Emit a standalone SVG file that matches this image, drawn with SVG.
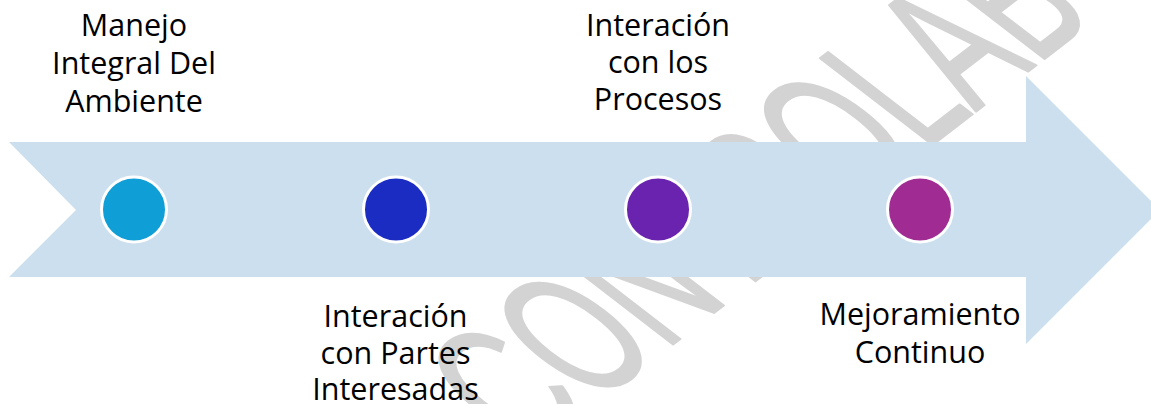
<svg xmlns="http://www.w3.org/2000/svg" width="1151" height="404" viewBox="0 0 1151 404">
  <style>
    .wm { font-family: "Liberation Sans", Arial, sans-serif; font-size: 120px; fill: #D3D3D3; stroke: #D3D3D3; stroke-width: 1.5; stroke-linejoin: round; }
    .arrow { fill: #CCDFEE; }
    .dot { stroke: #FFFFFF; stroke-width: 3; }
    .lbl { font-family: "Open Sans", "Noto Sans", sans-serif; font-size: 30.5px; fill: #000000; text-anchor: middle; }
  </style>
  <rect width="1151" height="404" fill="#FFFFFF"/>
  <g id="watermark">
    <text class="wm" transform="translate(528,456) scale(1.3,1) rotate(-45) scale(0.83,1.48)">CONTROLAB</text>
  </g>
  <g id="connectors">
    <polygon class="arrow" points="9,142 1026,142 1026,76 1160,210 1026,344 1026,277 9,277 76,210"/>
  </g>
  <g id="node-1">
    <circle class="dot" cx="134" cy="209.5" r="32.5" fill="#0F9ED5"/>
    <text class="lbl" x="134" y="36">Manejo</text>
    <text class="lbl" x="134" y="74">Integral Del</text>
    <text class="lbl" x="134" y="112">Ambiente</text>
  </g>
  <g id="node-2">
    <circle class="dot" cx="396" cy="209.5" r="32.5" fill="#1A2CC2"/>
    <text class="lbl" x="395.5" y="327">Interación</text>
    <text class="lbl" x="395.5" y="364">con Partes</text>
    <text class="lbl" x="395.5" y="400">Interesadas</text>
  </g>
  <g id="node-3">
    <circle class="dot" cx="658" cy="209.5" r="32.5" fill="#6A23AE"/>
    <text class="lbl" x="658" y="36">Interación</text>
    <text class="lbl" x="658" y="73">con los</text>
    <text class="lbl" x="658" y="110">Procesos</text>
  </g>
  <g id="node-4">
    <circle class="dot" cx="920" cy="209.5" r="32.5" fill="#A02B93"/>
    <text class="lbl" x="920" y="325">Mejoramiento</text>
    <text class="lbl" x="920" y="363">Continuo</text>
  </g>
</svg>
